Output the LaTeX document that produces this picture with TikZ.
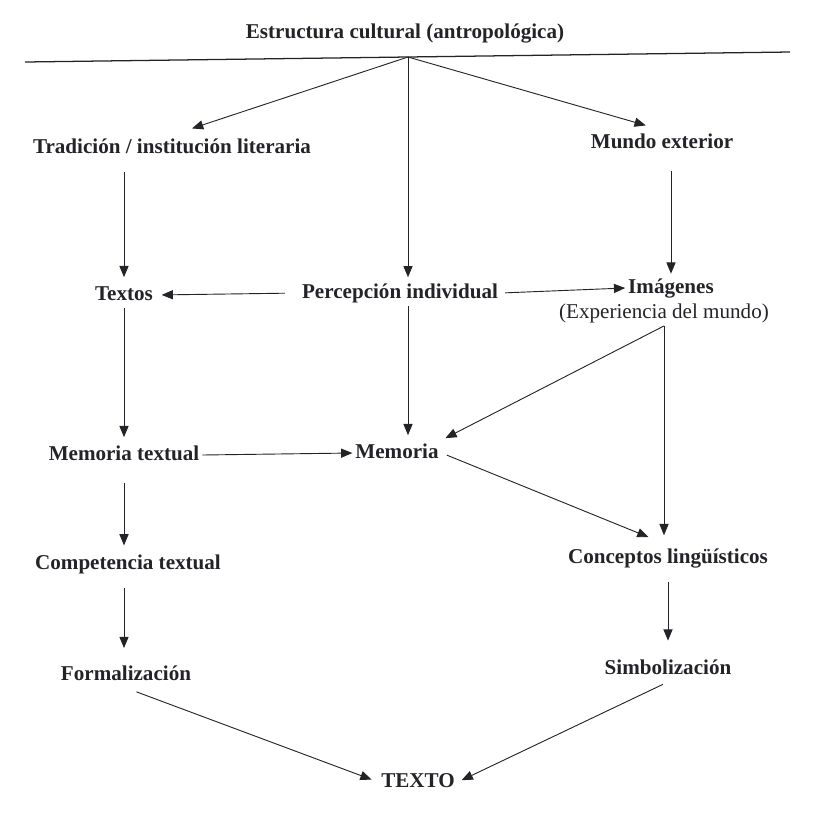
\documentclass[tikz,border=0pt]{standalone}
\usepackage{fontspec}
\setmainfont{Liberation Serif}
\definecolor{tinta}{RGB}{35, 35, 40}
\usepackage{tikz}
\usetikzlibrary{arrows.meta, positioning, calc}
\tikzset{
  etiq/.style={font=\fontsize{15}{18}\selectfont\bfseries, text=tinta, inner sep=2pt, text height=11pt, text depth=3pt},
  flecha/.style={draw=tinta, line width=0.65pt, -{Triangle[length=8pt, width=6.5pt]}}
}

\begin{document}
\begin{tikzpicture}
  \useasboundingbox (0, 0) rectangle (20.8, -20.625);

  % Top rule
  \node[etiq] (estructura) at (10.125, -0.825) {Estructura cultural (antropológica)};
  \draw[tinta, line width=0.9pt] (0.625, -1.55) -- (19.75, -1.3);
  \coordinate (cima) at (10.2, -1.425);

  % Second row
  \node[etiq] (tradicion) at (4.3, -3.7) {Tradición / institución literaria};
  \node[etiq] (mundo) at (16.55, -3.575) {Mundo exterior};

  % Third row
  \node[etiq] (textos) at (3.1, -7.375) {Textos};
  \node[etiq] (percepcion) at (10.0, -7.325) {Percepción individual};
  \node[etiq] (imagenes) at (16.775, -7.2) {Imágenes};
  \node[etiq, font=\fontsize{15}{18}\selectfont] (experiencia) at (16.6, -7.825) {(Experiencia del mundo)};

  % Memory row
  \node[etiq] (memtextual) at (3.1, -11.375) {Memoria textual};
  \node[etiq] (memoria) at (9.925, -11.325) {Memoria};

  % Lower rows
  \node[etiq] (competencia) at (3.2, -14.1) {Competencia textual};
  \node[etiq] (conceptos) at (16.7, -13.95) {Conceptos lingüísticos};
  \node[etiq] (formalizacion) at (3.15, -16.875) {Formalización};
  \node[etiq] (simbolizacion) at (16.7, -16.725) {Simbolización};
  \node[etiq] (texto) at (10.45, -19.55) {TEXTO};

  % From the cultural structure
  \draw[flecha, shorten >=15pt] (cima) -- (tradicion.north);
  \draw[flecha, shorten >=12pt] (cima) -- (mundo.north);
  \draw[flecha, shorten >=2pt] (cima) -- (cima |- percepcion.north);

  % Left column
  \draw[flecha, shorten <=8pt, shorten >=3.5pt] (textos.north |- tradicion.south) -- (textos.north);
  \draw[flecha, shorten >=3.5pt] (textos.south) -- (memtextual.north);
  \draw[flecha, shorten <=10.5pt, shorten >=4pt] (memtextual.south) -- (memtextual.south |- competencia.north);
  \draw[flecha, shorten <=8pt, shorten >=10pt] (memtextual.south |- competencia.south) -- (memtextual.south |- formalizacion.north);

  % Middle
  \draw[flecha, shorten <=10pt, shorten >=4pt] (percepcion.west) -- (textos.east);
  \draw[flecha, shorten <=3pt] (percepcion.east) -- (imagenes.west);
  \draw[flecha, shorten >=3.5pt] (percepcion.south -| cima) -- (memoria.north -| cima);
  \draw[flecha] (memtextual.east) -- (memoria.west);

  % Right column
  \draw[flecha, shorten <=11pt, shorten >=1pt] (imagenes.north |- mundo.south) -- (imagenes.north);
  \draw[flecha, shorten >=3pt] (experiencia.south) -- (memoria.north east);
  \draw[flecha, shorten >=7pt] (experiencia.south) -- (experiencia.south |- conceptos.north);
  \draw[flecha, shorten <=4pt, shorten >=15pt] (memoria.east) -- (conceptos.north);
  \draw[flecha, shorten <=8pt, shorten >=11pt] (conceptos.south) -- (simbolizacion.north);

  % Towards the text
  \draw[flecha, shorten <=8pt, shorten >=5pt] (formalizacion.south) -- (texto.west);
  \draw[flecha, shorten <=4pt, shorten >=3pt] (simbolizacion.south) -- (texto.east);
\end{tikzpicture}
\end{document}
